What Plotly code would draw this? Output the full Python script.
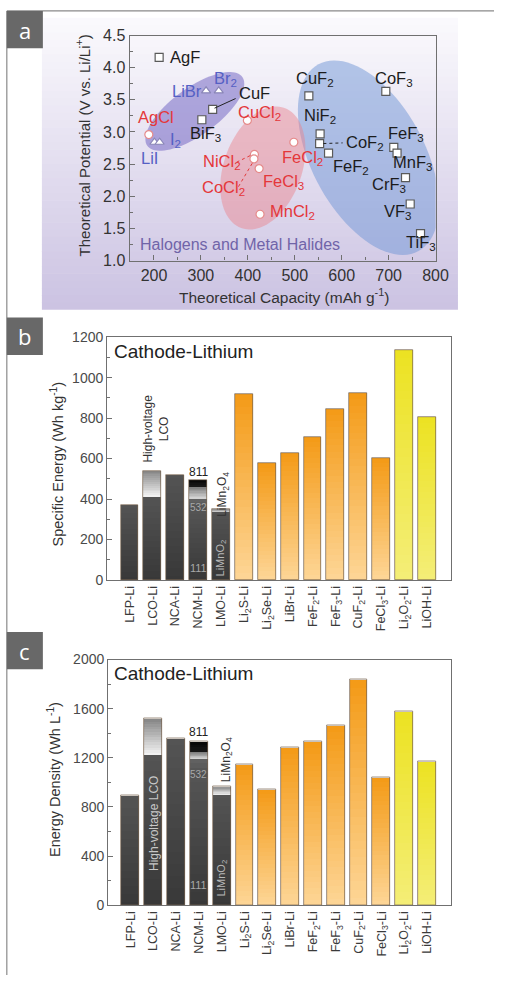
import numpy as np
import plotly.graph_objects as go

# ---------------- panel a: halogen / metal-halide cathodes ----------------
fluoride_names = ["AgF", "CuF", "BiF<sub>3</sub>", "CuF<sub>2</sub>", "NiF<sub>2</sub>", "CoF<sub>2</sub>",
                  "FeF<sub>2</sub>", "CoF<sub>3</sub>", "FeF<sub>3</sub>", "MnF<sub>3</sub>", "CrF<sub>3</sub>",
                  "VF<sub>3</sub>", "TiF<sub>3</sub>"]
fluoride_capacity = [211, 325, 302, 530, 554, 553, 572, 694, 711, 718, 736, 746, 768]
fluoride_potential = [4.16, 3.35, 3.19, 3.56, 2.97, 2.82, 2.67, 3.63, 2.76, 2.67, 2.29, 1.88, 1.42]

chloride_names = ["AgCl", "CuCl<sub>2</sub>", "NiCl<sub>2</sub>", "CoCl<sub>2</sub>", "FeCl<sub>2</sub>",
                  "FeCl<sub>3</sub>", "MnCl<sub>2</sub>"]
chloride_capacity = [189, 399, 414, 413, 424, 498, 426]
chloride_potential = [2.96, 3.18, 2.65, 2.58, 2.43, 2.84, 1.72]

halogen_names = ["LiBr", "Br<sub>2</sub>", "LiI", "I<sub>2</sub>"]
halogen_capacity = [311, 338, 201, 212]
halogen_potential = [3.64, 3.64, 2.84, 2.84]

# ---------------- panels b, c: cathode-lithium couples ----------------
couples = ["LFP-Li", "LCO-Li", "NCA-Li", "NCM-Li", "LMO-Li", "Li<sub>2</sub>S-Li", "Li<sub>2</sub>Se-Li",
           "LiBr-Li", "FeF<sub>2</sub>-Li", "FeF<sub>3</sub>-Li", "CuF<sub>2</sub>-Li", "FeCl<sub>3</sub>-Li",
           "Li<sub>2</sub>O<sub>2</sub>-Li", "LiOH-Li"]
specific_energy = [370, 540, 520, 495, 348, 920, 575, 627, 705, 845, 925, 600, 1137, 806]        # Wh/kg
energy_density = [890, 1520, 1360, 1330, 968, 1148, 945, 1282, 1330, 1465, 1840, 1042, 1578, 1172]  # Wh/L

lco_standard_energy = 408      # LCO below the high-voltage extension
lco_standard_density = 1224
ncm_levels_energy = [338, 400, 460]    # tops of 111, 532, 622 (811 = bar top)
ncm_levels_density = [1040, 1200, 1250]
limno2_energy = 335            # LiMnO2 part of LMO bar (LiMn2O4 = bar top)
limno2_density = 905

W, H = 507, 984
FONT = "Liberation Sans"


def px(x):
    return x / W


def py(y):
    return 1 - y / H


def hex2rgb(h):
    h = h.lstrip("#")
    return tuple(int(h[i:i + 2], 16) for i in (0, 2, 4))


def mix(c1, c2, t):
    a, b = hex2rgb(c1), hex2rgb(c2)
    return "rgb(%d,%d,%d)" % tuple(round(a[i] + (b[i] - a[i]) * t) for i in range(3))


fig = go.Figure()

# ---------------- panel a traces ----------------
fig.add_trace(go.Scatter(x=halogen_capacity, y=halogen_potential, mode="markers", xaxis="x", yaxis="y",
                         marker=dict(symbol="triangle-up", size=8, color="white",
                                     line=dict(color="#8a86b8", width=1.2)),
                         text=halogen_names, hoverinfo="text"))
fig.add_trace(go.Scatter(x=chloride_capacity, y=chloride_potential, mode="markers", xaxis="x", yaxis="y",
                         marker=dict(symbol="circle", size=8, color="white",
                                     line=dict(color="#e58a8a", width=1.2)),
                         text=chloride_names, hoverinfo="text"))
fig.add_trace(go.Scatter(x=fluoride_capacity, y=fluoride_potential, mode="markers", xaxis="x", yaxis="y",
                         marker=dict(symbol="square", size=8, color="white",
                                     line=dict(color="#5a5a5a", width=1.2)),
                         text=fluoride_names, hoverinfo="text"))

# ---------------- bar helpers ----------------
BAR_W = 0.78
xpos = list(range(len(couples)))


def gradient_bars(xa, ya, idx, lo, hi, c_lo, c_hi, n, yspan, hpx):
    """Stack n thin overlaid bars from lo to hi with colours blended c_lo -> c_hi."""
    ov = yspan / hpx * 0.7
    for k in range(n):
        xs, bases, hs, cols = [], [], [], []
        for j, i in enumerate(idx):
            step = (hi[j] - lo[j]) / n
            xs.append(xpos[i])
            bases.append(lo[j] + step * k)
            hs.append(step + (ov if k < n - 1 else 0))
            cols.append(mix(c_lo[j], c_hi[j], (k + 0.5) / n))
        fig.add_trace(go.Bar(x=xs, y=hs, base=bases, width=BAR_W, xaxis=xa, yaxis=ya,
                             marker=dict(color=cols, line=dict(width=0)), hoverinfo="skip"))


GRAY = ("#383838", "#545454")
ORANGE = ("#fdd697", "#f49a16")
YELLOW = ("#f4ee78", "#ece221")


def bar_panel(xa, ya, tops, lco_std, ncm_lv, limno2, yspan, hpx):
    main_idx = list(range(len(tops)))
    main_top = list(tops)
    main_top[1] = lco_std
    main_top[3] = ncm_lv[0]
    main_top[4] = limno2
    c_lo = [GRAY[0]] * 5 + [ORANGE[0]] * 7 + [YELLOW[0]] * 2
    c_hi = [GRAY[1]] * 5 + [ORANGE[1]] * 7 + [YELLOW[1]] * 2
    gradient_bars(xa, ya, main_idx, [0] * len(tops), main_top, c_lo, c_hi, 28, yspan, hpx)
    # high-voltage LCO extension
    gradient_bars(xa, ya, [1], [lco_std], [tops[1]], ["#f6f6f6"], ["#858585"], 14, yspan, hpx)
    # NCM 532 / 622 / 811 levels
    gradient_bars(xa, ya, [3], [ncm_lv[0]], [ncm_lv[1]], ["#4e4e4e"], ["#646464"], 4, yspan, hpx)
    gradient_bars(xa, ya, [3], [ncm_lv[1]], [ncm_lv[2]], ["#d8d8d8"], ["#7a7a7a"], 8, yspan, hpx)
    gradient_bars(xa, ya, [3], [ncm_lv[2]], [tops[3]], ["#1a1a1a"], ["#050505"], 4, yspan, hpx)
    # LiMn2O4 band above LiMnO2
    gradient_bars(xa, ya, [4], [limno2], [tops[4]], ["#f2f2f2"], ["#8f8f8f"], 6, yspan, hpx)
    # outlines
    fig.add_trace(go.Bar(x=xpos, y=tops, base=[0] * len(tops), width=BAR_W, xaxis=xa, yaxis=ya,
                         marker=dict(color="rgba(0,0,0,0)", line=dict(color="rgba(120,100,80,0.75)", width=1)),
                         hoverinfo="skip"))


bar_panel("x2", "y2", specific_energy, lco_standard_energy, ncm_levels_energy, limno2_energy, 1200, 247)
bar_panel("x3", "y3", energy_density, lco_standard_density, ncm_levels_density, limno2_density, 2000, 250)

# ---------------- axes ----------------
AX = dict(showline=True, linecolor="#707070", linewidth=1.2, mirror=True, ticks="inside", ticklen=5,
          tickcolor="#707070", showgrid=False, zeroline=False,
          tickfont=dict(family=FONT, size=16, color="#333333"))

layout_axes = dict(
    xaxis=dict(AX, domain=[px(133), px(447)], anchor="y", range=[148, 800],
               tickvals=[200, 300, 400, 500, 600, 700, 800],
               minor=dict(ticks="inside", ticklen=3, dtick=50, tickcolor="#707070")),
    yaxis=dict(AX, domain=[py(257), py(28)], anchor="x", range=[1.0, 4.5], dtick=0.5, tickformat=".1f",
               minor=dict(ticks="inside", ticklen=3, dtick=0.25, tickcolor="#707070")),
    xaxis2=dict(AX, domain=[px(110), px(463)], anchor="y2", range=[-0.98, 14.05], tickvals=xpos,
                ticktext=couples, tickangle=-90, ticks="", tickfont=dict(family=FONT, size=12.5, color="#3a3a3a")),
    yaxis2=dict(AX, domain=[py(582), py(335)], anchor="x2", range=[0, 1200], dtick=200,
                tickfont=dict(family=FONT, size=14, color="#4a4a4a"),
                minor=dict(ticks="inside", ticklen=3, dtick=100, tickcolor="#707070")),
    xaxis3=dict(AX, domain=[px(111), px(463)], anchor="y3", range=[-0.98, 14.05], tickvals=xpos,
                ticktext=couples, tickangle=-90, ticks="", tickfont=dict(family=FONT, size=12.5, color="#3a3a3a")),
    yaxis3=dict(AX, domain=[py(913), py(663)], anchor="x3", range=[0, 2000], dtick=400,
                tickfont=dict(family=FONT, size=14, color="#4a4a4a"),
                minor=dict(ticks="inside", ticklen=3, dtick=200, tickcolor="#707070")),
)

# ---------------- shapes ----------------
shapes = []
# border lines of the figure
shapes.append(dict(type="line", xref="paper", yref="paper", x0=px(7), x1=px(7), y0=0, y1=py(3),
                   line=dict(color="#8a8a8a", width=1.2)))
shapes.append(dict(type="line", xref="paper", yref="paper", x0=px(7), x1=1, y0=py(3), y1=py(3),
                   line=dict(color="#8a8a8a", width=1.2)))

# lavender backdrop of panel a (vertical blend)
n_bg = 40
top_px, bot_px = 10, 307
for k in range(n_bg):
    y0 = top_px + (bot_px - top_px) * k / n_bg
    y1 = top_px + (bot_px - top_px) * (k + 1) / n_bg + 0.6
    shapes.append(dict(type="rect", xref="paper", yref="paper", layer="below",
                       x0=px(43), x1=px(470), y0=py(min(y1, bot_px)), y1=py(y0),
                       fillcolor=mix("#fbfafd", "#cbc2e2", (k + 0.5) / n_bg), line=dict(width=0)))

# highlighted regions in panel a (ellipses defined in screen pixels around a data centre)
SX = (447 - 133) / (800 - 148)
SY = (257 - 28) / (4.5 - 1.0)


def ellipse_path(cx, cy, a, b, ang):
    t = np.linspace(0, 2 * np.pi, 90, endpoint=False)
    ca, sa = np.cos(np.radians(ang)), np.sin(np.radians(ang))
    dx = a * np.cos(t) * ca - b * np.sin(t) * sa
    dy = a * np.cos(t) * sa + b * np.sin(t) * ca
    pts = ["%.3f,%.4f" % (cx + u / SX, cy + v / SY) for u, v in zip(dx, dy)]
    return "M " + " L ".join(pts) + " Z"


shapes.append(dict(type="path", xref="x", yref="y", layer="below", path=ellipse_path(657, 2.60, 108, 58, -61.6),
                   fillcolor="rgba(112,150,214,0.50)", line=dict(width=0)))
shapes.append(dict(type="path", xref="x", yref="y", layer="below", path=ellipse_path(432, 2.44, 65, 40, 70),
                   fillcolor="rgba(236,128,138,0.45)", line=dict(width=0)))
shapes.append(dict(type="path", xref="x", yref="y", layer="below", path=ellipse_path(287, 3.32, 60, 24, 35.6),
                   fillcolor="rgba(118,106,196,0.55)", line=dict(width=0)))

# leader lines from points to labels
shapes.append(dict(type="line", xref="x", yref="y", x0=fluoride_capacity[1] + 4, y0=fluoride_potential[1] + 0.02,
                   x1=374, y1=3.52, line=dict(color="#222222", width=1)))
shapes.append(dict(type="line", xref="x", yref="y", x0=fluoride_capacity[5] + 8, y0=fluoride_potential[5],
                   x1=602, y1=2.83, line=dict(color="#222222", width=1, dash="dot")))
shapes.append(dict(type="line", xref="x", yref="y", x0=376, y0=2.53, x1=chloride_capacity[2] - 4,
                   y1=chloride_potential[2], line=dict(color="#e23a3a", width=1, dash="dot")))
shapes.append(dict(type="line", xref="x", yref="y", x0=380, y0=2.15, x1=chloride_capacity[3] - 3,
                   y1=chloride_potential[3] - 0.06, line=dict(color="#e23a3a", width=1, dash="dot")))

# panel letter boxes
for top in (3, 315, 635):
    shapes.append(dict(type="rect", xref="paper", yref="paper", x0=px(7), x1=px(44), y0=py(top + 38), y1=py(top),
                       fillcolor="#686868", line=dict(width=0)))

# ---------------- annotations ----------------
ann = []
BLACK, RED, BLUE = "#1c1c1c", "#e4373a", "#5560c4"
label_pos = {
    "AgF": (229, 4.16, BLACK), "CuF": (376, 3.61, BLACK), "BiF<sub>3</sub>": (272, 2.97, BLACK),
    "CuF<sub>2</sub>": (499, 3.83, BLACK), "NiF<sub>2</sub>": (515, 3.25, BLACK),
    "CoF<sub>2</sub>": (605, 2.83, BLACK), "FeF<sub>2</sub>": (578, 2.45, BLACK),
    "CoF<sub>3</sub>": (667, 3.83, BLACK), "FeF<sub>3</sub>": (694, 2.97, BLACK),
    "MnF<sub>3</sub>": (706, 2.51, BLACK), "CrF<sub>3</sub>": (661, 2.18, BLACK),
    "VF<sub>3</sub>": (686, 1.76, BLACK), "TiF<sub>3</sub>": (733, 1.28, BLACK),
    "AgCl": (162, 3.23, RED), "CuCl<sub>2</sub>": (374, 3.30, RED), "NiCl<sub>2</sub>": (301, 2.53, RED),
    "CoCl<sub>2</sub>": (297, 2.13, RED), "FeCl<sub>2</sub>": (468, 2.59, RED), "FeCl<sub>3</sub>": (428, 2.22, RED),
    "MnCl<sub>2</sub>": (443, 1.75, RED),
    "LiBr": (235, 3.63, BLUE), "Br<sub>2</sub>": (324, 3.83, BLUE), "LiI": (169, 2.60, BLUE),
    "I<sub>2</sub>": (229, 2.87, BLUE),
}
for name, (lx, ly, col) in label_pos.items():
    ann.append(dict(x=lx, y=ly, xref="x", yref="y", text=name, showarrow=False, xanchor="left", yanchor="middle",
                    font=dict(family=FONT, size=16.5, color=col)))
ann.append(dict(x=166, y=1.245, xref="x", yref="y", text="Halogens and Metal Halides", showarrow=False,
                xanchor="left", yanchor="middle", font=dict(family=FONT, size=16, color="#7064a8")))


def paper_text(xp, yp, text, size, color="#333333", angle=0, family=FONT):
    return dict(x=px(xp), y=py(yp), xref="paper", yref="paper", text=text, textangle=angle, showarrow=False,
                xanchor="center", yanchor="middle", font=dict(family=family, size=size, color=color))


# axis titles
ann.append(paper_text(85, 140, "Theoretical Potential (V vs. Li/Li<sup>+</sup>)", 15, angle=-90))
ann.append(paper_text(291, 293, "Theoretical Capacity (mAh g<sup>-1</sup>)", 15.5))
ann.append(paper_text(58, 464, "Specific Energy (Wh kg<sup>-1</sup>)", 14.5, angle=-90))
ann.append(paper_text(56, 785, "Energy Density (Wh L<sup>-1</sup>)", 14.5, angle=-90))

# panel titles
for yc in (350, 677):
    ann.append(dict(x=px(115), y=py(yc), xref="paper", yref="paper", text="Cathode-Lithium", showarrow=False,
                    xanchor="left", yanchor="middle", font=dict(family=FONT, size=19, color="#222222")))

# panel letters
for letter, top in (("a", 3), ("b", 315), ("c", 635)):
    ann.append(paper_text(25.5, top + 19, letter, 22, color="white", family="Open Sans"))

# bar annotations, panel b
ann += [
    dict(x=1.15, y=748, xref="x2", yref="y2", text="High-voltage<br>LCO", textangle=-90, showarrow=False,
         font=dict(family=FONT, size=12, color="#333333")),
    dict(x=3, y=532, xref="x2", yref="y2", text="811", showarrow=False, font=dict(family=FONT, size=12, color="#222")),
    dict(x=4.1, y=423, xref="x2", yref="y2", text="LiMn<sub>2</sub>O<sub>4</sub>", textangle=-90, showarrow=False,
         font=dict(family=FONT, size=12, color="#333333")),
    dict(x=4, y=107, xref="x2", yref="y2", text="LiMnO<sub>2</sub>", textangle=-90, showarrow=False,
         font=dict(family=FONT, size=11, color="#b8b8b8")),
    dict(x=3, y=58, xref="x2", yref="y2", text="111", showarrow=False, font=dict(family=FONT, size=11, color="#a8a8a8")),
    dict(x=3, y=360, xref="x2", yref="y2", text="532", showarrow=False, font=dict(family=FONT, size=10, color="#a8a8a8")),
]
# bar annotations, panel c
ann += [
    dict(x=1, y=664, xref="x3", yref="y3", text="High-voltage LCO", textangle=-90, showarrow=False,
         font=dict(family=FONT, size=12, color="#c8c8c8")),
    dict(x=3, y=1408, xref="x3", yref="y3", text="811", showarrow=False, font=dict(family=FONT, size=12, color="#222")),
    dict(x=4.2, y=1184, xref="x3", yref="y3", text="LiMn<sub>2</sub>O<sub>4</sub>", textangle=-90, showarrow=False,
         font=dict(family=FONT, size=12, color="#333333")),
    dict(x=4, y=224, xref="x3", yref="y3", text="LiMnO<sub>2</sub>", textangle=-90, showarrow=False,
         font=dict(family=FONT, size=11, color="#b8b8b8")),
    dict(x=3, y=168, xref="x3", yref="y3", text="111", showarrow=False, font=dict(family=FONT, size=11, color="#a8a8a8")),
    dict(x=3, y=1064, xref="x3", yref="y3", text="532", showarrow=False, font=dict(family=FONT, size=10, color="#a8a8a8")),
]

fig.update_layout(
    width=W, height=H, autosize=False, margin=dict(l=0, r=0, t=0, b=0),
    paper_bgcolor="white", plot_bgcolor="rgba(0,0,0,0)",
    showlegend=False, barmode="overlay", bargap=0,
    shapes=shapes, annotations=ann,
    font=dict(family=FONT),
    **layout_axes,
)

# page body without default margins so the figure sits flush in the window
fig.write_html("out.html", post_script="document.body.style.margin='0';document.body.style.overflow='hidden';")
